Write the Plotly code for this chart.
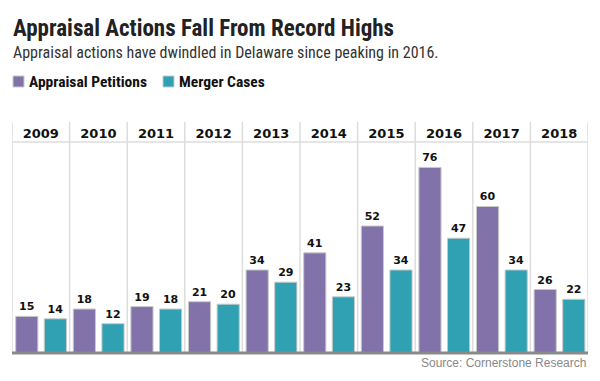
import plotly.graph_objects as go

years = ["2009", "2010", "2011", "2012", "2013", "2014", "2015", "2016", "2017", "2018"]
appraisal_petitions = [15, 18, 19, 21, 34, 41, 52, 76, 60, 26]
merger_cases = [14, 12, 18, 20, 29, 23, 34, 47, 34, 22]

title_text = "Appraisal Actions Fall From Record Highs"
subtitle_text = "Appraisal actions have dwindled in Delaware since peaking in 2016."
source_text = "Source: Cornerstone Research"

PURPLE = "#8173a9"
TEAL = "#2fa1b3"

W, H = 600, 381
L, R, T, B = 12, 12, 142, 28
PW = W - L - R
PH = H - T - B


def px(x):
    return (x - L) / PW


def py(y):
    return (H - B - y) / PH


fig = go.Figure()
label_font = dict(family="DejaVu Sans", size=11, color="#111111")
fig.add_trace(go.Bar(
    x=years, y=appraisal_petitions, name="Appraisal Petitions",
    marker=dict(color=PURPLE, line=dict(color="#c9c9c9", width=1)),
    width=0.385, offset=-0.436,
    text=[f"<b>{v}</b>" for v in appraisal_petitions], textposition="outside",
    textfont=label_font, cliponaxis=False, showlegend=False,
))
fig.add_trace(go.Bar(
    x=years, y=merger_cases, name="Merger Cases",
    marker=dict(color=TEAL, line=dict(color="#c9c9c9", width=1)),
    width=0.385, offset=0.061,
    text=[f"<b>{v}</b>" for v in merger_cases], textposition="outside",
    textfont=label_font, cliponaxis=False, showlegend=False,
))

shapes = []
top_ext = py(122)
for i in range(len(years) + 1):
    shapes.append(dict(type="line", xref="x", yref="paper", x0=i - 0.5, x1=i - 0.5,
                       y0=0, y1=top_ext, line=dict(color="#dcdcdc", width=1.5), layer="below"))
shapes.append(dict(type="line", xref="paper", yref="paper", x0=0, x1=1, y0=1, y1=1,
                   line=dict(color="#dcdcdc", width=1.5), layer="below"))
shapes.append(dict(type="line", xref="paper", yref="paper", x0=0, x1=1, y0=py(353), y1=py(353),
                   line=dict(color="#8a8a8a", width=3), layer="above"))
# legend squares
shapes.append(dict(type="rect", xref="paper", yref="paper", x0=px(13), x1=px(24), y0=py(87), y1=py(76),
                   fillcolor=PURPLE, line=dict(color="#c9c9c9", width=1)))
shapes.append(dict(type="rect", xref="paper", yref="paper", x0=px(163), x1=px(174), y0=py(87), y1=py(76),
                   fillcolor=TEAL, line=dict(color="#c9c9c9", width=1)))

narrow = "Liberation Sans Narrow, Roboto Condensed, Arial Narrow, sans-serif"
annotations = [
    dict(text=f"<b>{title_text}</b>", xref="paper", yref="paper", x=px(11), y=py(28),
         xanchor="left", yanchor="middle", showarrow=False,
         font=dict(family=narrow, size=23, color="#222222")),
    dict(text=subtitle_text, xref="paper", yref="paper", x=px(11), y=py(52),
         xanchor="left", yanchor="middle", showarrow=False,
         font=dict(family=narrow, size=16, color="#333333")),
    dict(text="<b>Appraisal Petitions</b>", xref="paper", yref="paper", x=px(27), y=py(81.5),
         xanchor="left", yanchor="middle", showarrow=False,
         font=dict(family=narrow, size=15.5, color="#111111")),
    dict(text="<b>Merger Cases</b>", xref="paper", yref="paper", x=px(177), y=py(81.5),
         xanchor="left", yanchor="middle", showarrow=False,
         font=dict(family=narrow, size=15.5, color="#111111")),
    dict(text=source_text, xref="paper", yref="paper", x=px(588), y=py(363),
         xanchor="right", yanchor="middle", showarrow=False,
         font=dict(family="Liberation Sans, Arial, sans-serif", size=12, color="#888888")),
]

fig.update_layout(
    width=W, height=H,
    margin=dict(l=L, r=R, t=T, b=B),
    paper_bgcolor="white", plot_bgcolor="white",
    barmode="group",
    shapes=shapes, annotations=annotations,
    xaxis=dict(side="top", type="category", showgrid=False, zeroline=False, showline=False,
               ticks="", tickfont=dict(family="DejaVu Sans", size=13, color="#111111"),
               tickvals=years, ticktext=[f"<b>{y}</b>" for y in years],
               range=[-0.5, len(years) - 0.5], fixedrange=True),
    yaxis=dict(range=[0, 86.4], visible=False, fixedrange=True),
)

fig.write_html("out.html", config={"displayModeBar": False, "staticPlot": True},
               post_script="document.body.style.margin='0px';document.body.style.overflow='hidden';")
